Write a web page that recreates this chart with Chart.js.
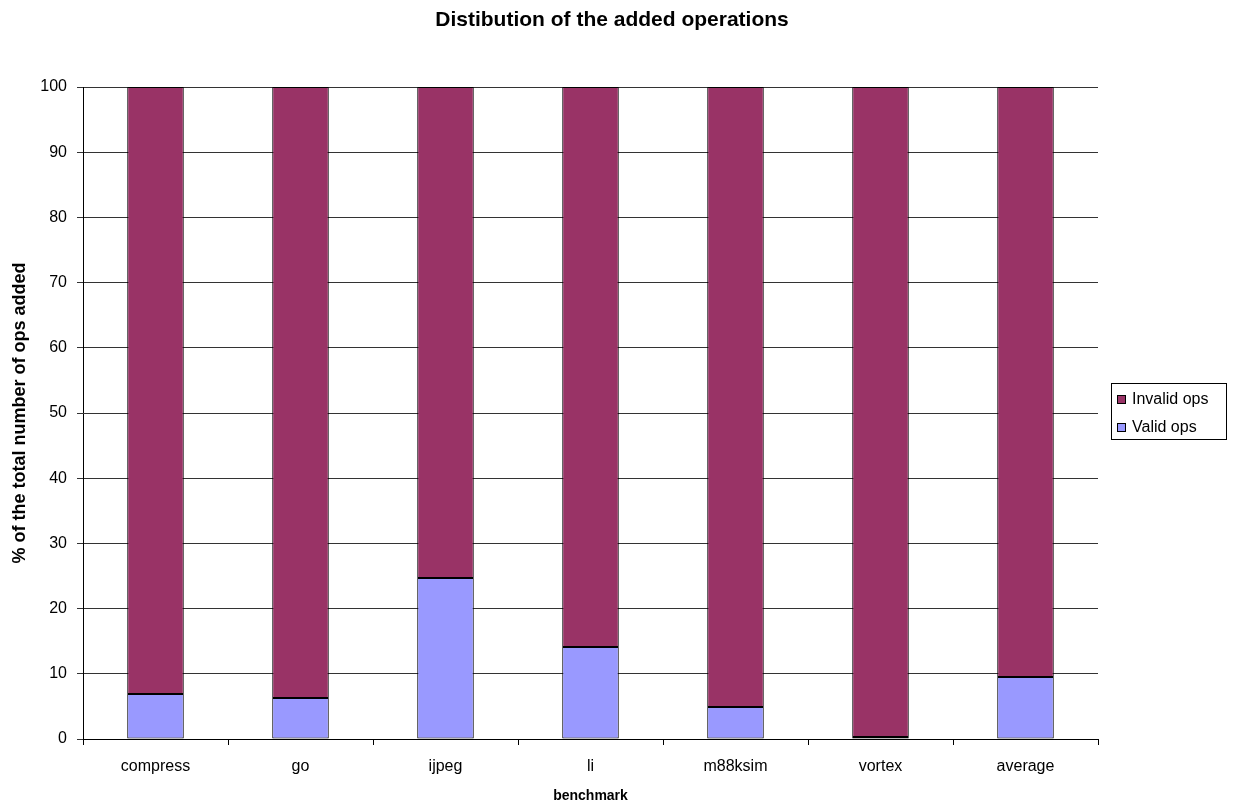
<!DOCTYPE html>
<html>
<head>
<meta charset="utf-8">
<title>Distibution of the added operations</title>
<script src="https://cdn.jsdelivr.net/npm/chart.js@4.4.1/dist/chart.umd.min.js"></script>
<style>
  html, body { margin: 0; padding: 0; background: #fff; }
  #wrap { width: 1233px; height: 809px; }
</style>
</head>
<body>
<div id="wrap"><canvas id="opsChart" width="1233" height="809"></canvas></div>
<script>
const benchmarks = ['compress', 'go', 'ijpeg', 'li', 'm88ksim', 'vortex', 'average'];
const validOps = [6.9, 6.3, 24.7, 14.1, 4.9, 0.3, 9.5];
const invalidOps = [93.1, 93.7, 75.3, 85.9, 95.1, 99.7, 90.5];
const yTicks = [0, 10, 20, 30, 40, 50, 60, 70, 80, 90, 100];
const chartTitle = 'Distibution of the added operations';

const FONT = '"Liberation Sans", Arial, sans-serif';

// title across the whole canvas plus a boxed legend on the right (Invalid first)
const decorations = {
  id: 'decorations',
  afterDraw(chart) {
    const ctx = chart.ctx;
    ctx.save();
    ctx.fillStyle = '#000';
    ctx.font = 'bold 21px ' + FONT;
    ctx.textAlign = 'center';
    ctx.textBaseline = 'middle';
    ctx.fillText(chartTitle, 612, 20);

    const items = chart.data.datasets.slice().reverse();
    const x = 1111, y = 383, w = 115, h = 56;
    ctx.fillStyle = '#fff';
    ctx.fillRect(x, y, w, h);
    ctx.strokeStyle = '#000';
    ctx.lineWidth = 1;
    ctx.strokeRect(x + 0.5, y + 0.5, w, h);
    ctx.font = '16px ' + FONT;
    ctx.textAlign = 'left';
    items.forEach((ds, i) => {
      const cy = y + 16 + i * 28;
      ctx.fillStyle = ds.backgroundColor;
      ctx.fillRect(x + 6, cy - 4, 9, 9);
      ctx.strokeStyle = '#000';
      ctx.strokeRect(x + 6.5, cy - 3.5, 8, 8);
      ctx.fillStyle = '#000';
      ctx.fillText(ds.label, x + 21, cy + 1);
    });
    ctx.restore();
  }
};

new Chart(document.getElementById('opsChart'), {
  type: 'bar',
  data: {
    labels: benchmarks,
    datasets: [
      {
        label: 'Valid ops',
        data: validOps,
        backgroundColor: '#9999ff',
        borderColor: '#000',
        borderWidth: 1,
        borderSkipped: false,
        categoryPercentage: 1,
        barPercentage: 0.39
      },
      {
        label: 'Invalid ops',
        data: invalidOps,
        backgroundColor: '#993366',
        borderColor: '#000',
        borderWidth: 1,
        borderSkipped: false,
        categoryPercentage: 1,
        barPercentage: 0.39
      }
    ]
  },
  options: {
    responsive: false,
    animation: false,
    layout: { padding: { left: 0, right: 135, top: 87, bottom: 4 } },
    plugins: {
      legend: { display: false },
      tooltip: { enabled: false },
      title: { display: false }
    },
    scales: {
      x: {
        stacked: true,
        afterFit(scale) { scale.height = 66; },
        grid: { drawOnChartArea: false, drawTicks: true, tickLength: 6, color: '#000', offset: true },
        border: { color: '#000' },
        ticks: { color: '#000', font: { family: FONT, size: 16 }, padding: 12 },
        title: {
          display: true,
          text: 'benchmark',
          color: '#000',
          font: { family: FONT, size: 14, weight: 'bold' },
          padding: { top: 4, bottom: 0 }
        }
      },
      y: {
        stacked: true,
        min: 0,
        max: 100,
        afterFit(scale) { scale.width = 83; },
        afterBuildTicks(scale) { scale.ticks = yTicks.map(v => ({ value: v })); },
        grid: { color: '#333', tickLength: 6 },
        border: { color: '#000' },
        ticks: { color: '#000', font: { family: FONT, size: 16 }, padding: 10 },
        title: {
          display: true,
          text: '% of the total number of ops added',
          color: '#000',
          font: { family: FONT, size: 18, weight: 'bold' },
          padding: { top: 9, bottom: 0 }
        }
      }
    }
  },
  plugins: [decorations]
});
</script>
</body>
</html>
